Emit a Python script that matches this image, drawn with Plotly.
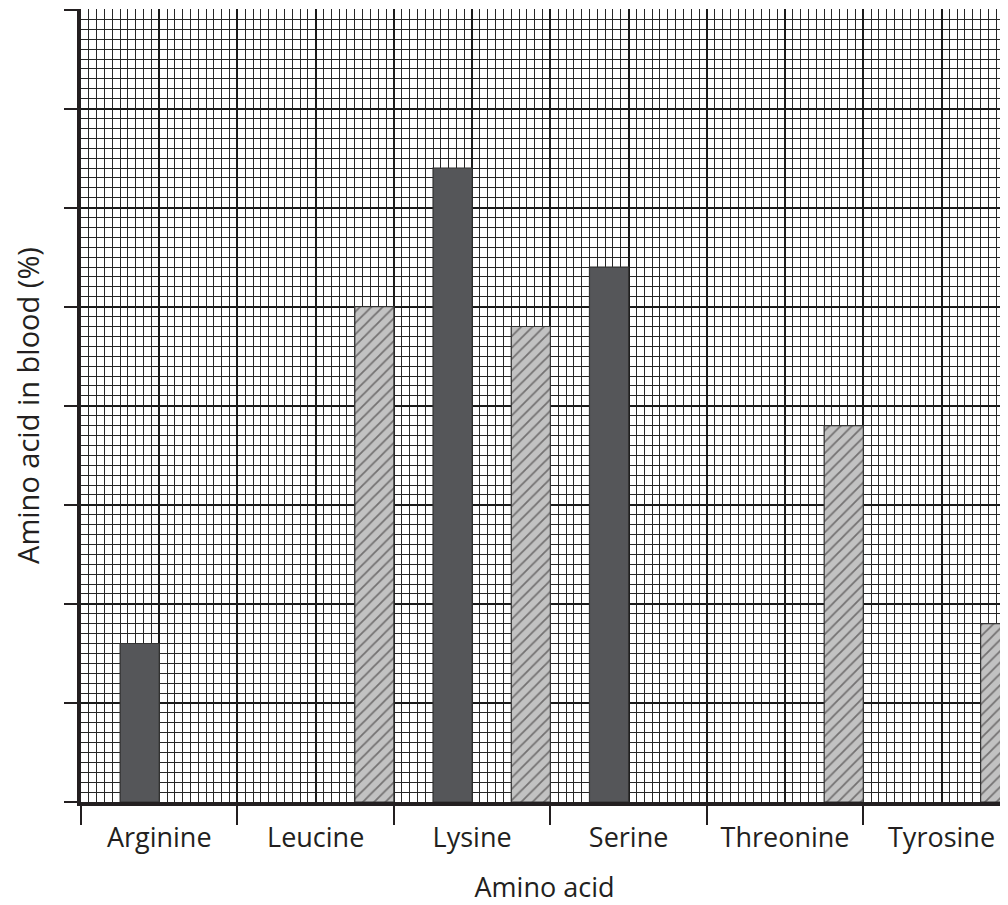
import plotly.graph_objects as go

categories = ["Arginine", "Leucine", "Lysine", "Serine", "Threonine", "Tyrosine"]
dark_values = [16, None, 64, 54, None, None]
hatched_values = [None, 50, 48, None, 38, 18]

CAT_W = 20
dark_x = [CAT_W * i + 7.5 for i in range(len(categories))]
hatch_x = [CAT_W * i + 17.5 for i in range(len(categories))]
centers = [CAT_W * i + 10 for i in range(len(categories))]
bounds = [CAT_W * i for i in range(len(categories) + 1)]

FONT = dict(family="Open Sans", size=27, color="#231f20")
YFONT = dict(family="Open Sans", size=29, color="#231f20")
XR = [0, 118.5]

fig = go.Figure()
fig.add_trace(go.Bar(x=dark_x, y=dark_values, width=5,
                     marker=dict(color="#555659", line=dict(color="#333333", width=1.2)),
                     showlegend=False, hoverinfo="skip"))
fig.add_trace(go.Bar(x=hatch_x, y=hatched_values, width=5,
                     marker=dict(color="#c2c2c2",
                                 line=dict(color="#333333", width=1.2),
                                 pattern=dict(shape="/", fgcolor="#231f20", bgcolor="#c2c2c2",
                                              size=8, solidity=0.22)),
                     showlegend=False, hoverinfo="skip"))
# helper invisible traces so overlay axes are drawn
fig.add_trace(go.Scatter(x=[10], y=[0], xaxis="x2", mode="markers",
                         marker=dict(opacity=0), showlegend=False, hoverinfo="skip"))
fig.add_trace(go.Scatter(x=[10], y=[0], xaxis="x3", mode="markers",
                         marker=dict(opacity=0), showlegend=False, hoverinfo="skip"))

fig.update_layout(
    width=1000, height=897,
    margin=dict(l=73, r=0, t=1, b=103),
    paper_bgcolor="white", plot_bgcolor="white",
    barmode="overlay",
    font=FONT,
    xaxis=dict(range=XR, tickvals=list(range(0, 130, 10)), showticklabels=False, ticks="",
               showgrid=True, gridcolor="#1a1a1a", gridwidth=2,
               minor=dict(dtick=1, tick0=0, showgrid=True, gridcolor="#262626", gridwidth=1.1),
               showline=True, linecolor="#231f20", linewidth=4, zeroline=False),
    xaxis2=dict(range=XR, overlaying="x", anchor="y", side="bottom",
                tickvals=bounds, ticktext=[""] * len(bounds), ticks="outside",
                ticklen=22, tickwidth=2, tickcolor="#231f20",
                showgrid=False, showline=False, zeroline=False),
    xaxis3=dict(range=XR, overlaying="x", anchor="y", side="bottom",
                tickvals=centers, ticktext=categories, ticks="",
                ticklabelstandoff=17, tickfont=FONT,
                showgrid=False, showline=False, zeroline=False,
                title=dict(text="Amino acid", font=FONT, standoff=25)),
    yaxis=dict(range=[0, 80.05], tickvals=list(range(0, 90, 10)), showticklabels=False,
               ticks="outside", ticklen=13, tickwidth=2, tickcolor="#231f20",
               showgrid=True, gridcolor="#1a1a1a", gridwidth=2,
               minor=dict(dtick=1, tick0=0, showgrid=True, gridcolor="#262626", gridwidth=1.1),
               showline=True, linecolor="#231f20", linewidth=4, zeroline=False,
               title=dict(text="Amino acid in blood (%)", font=YFONT, standoff=37)),
)

fig.write_html("out.html")
